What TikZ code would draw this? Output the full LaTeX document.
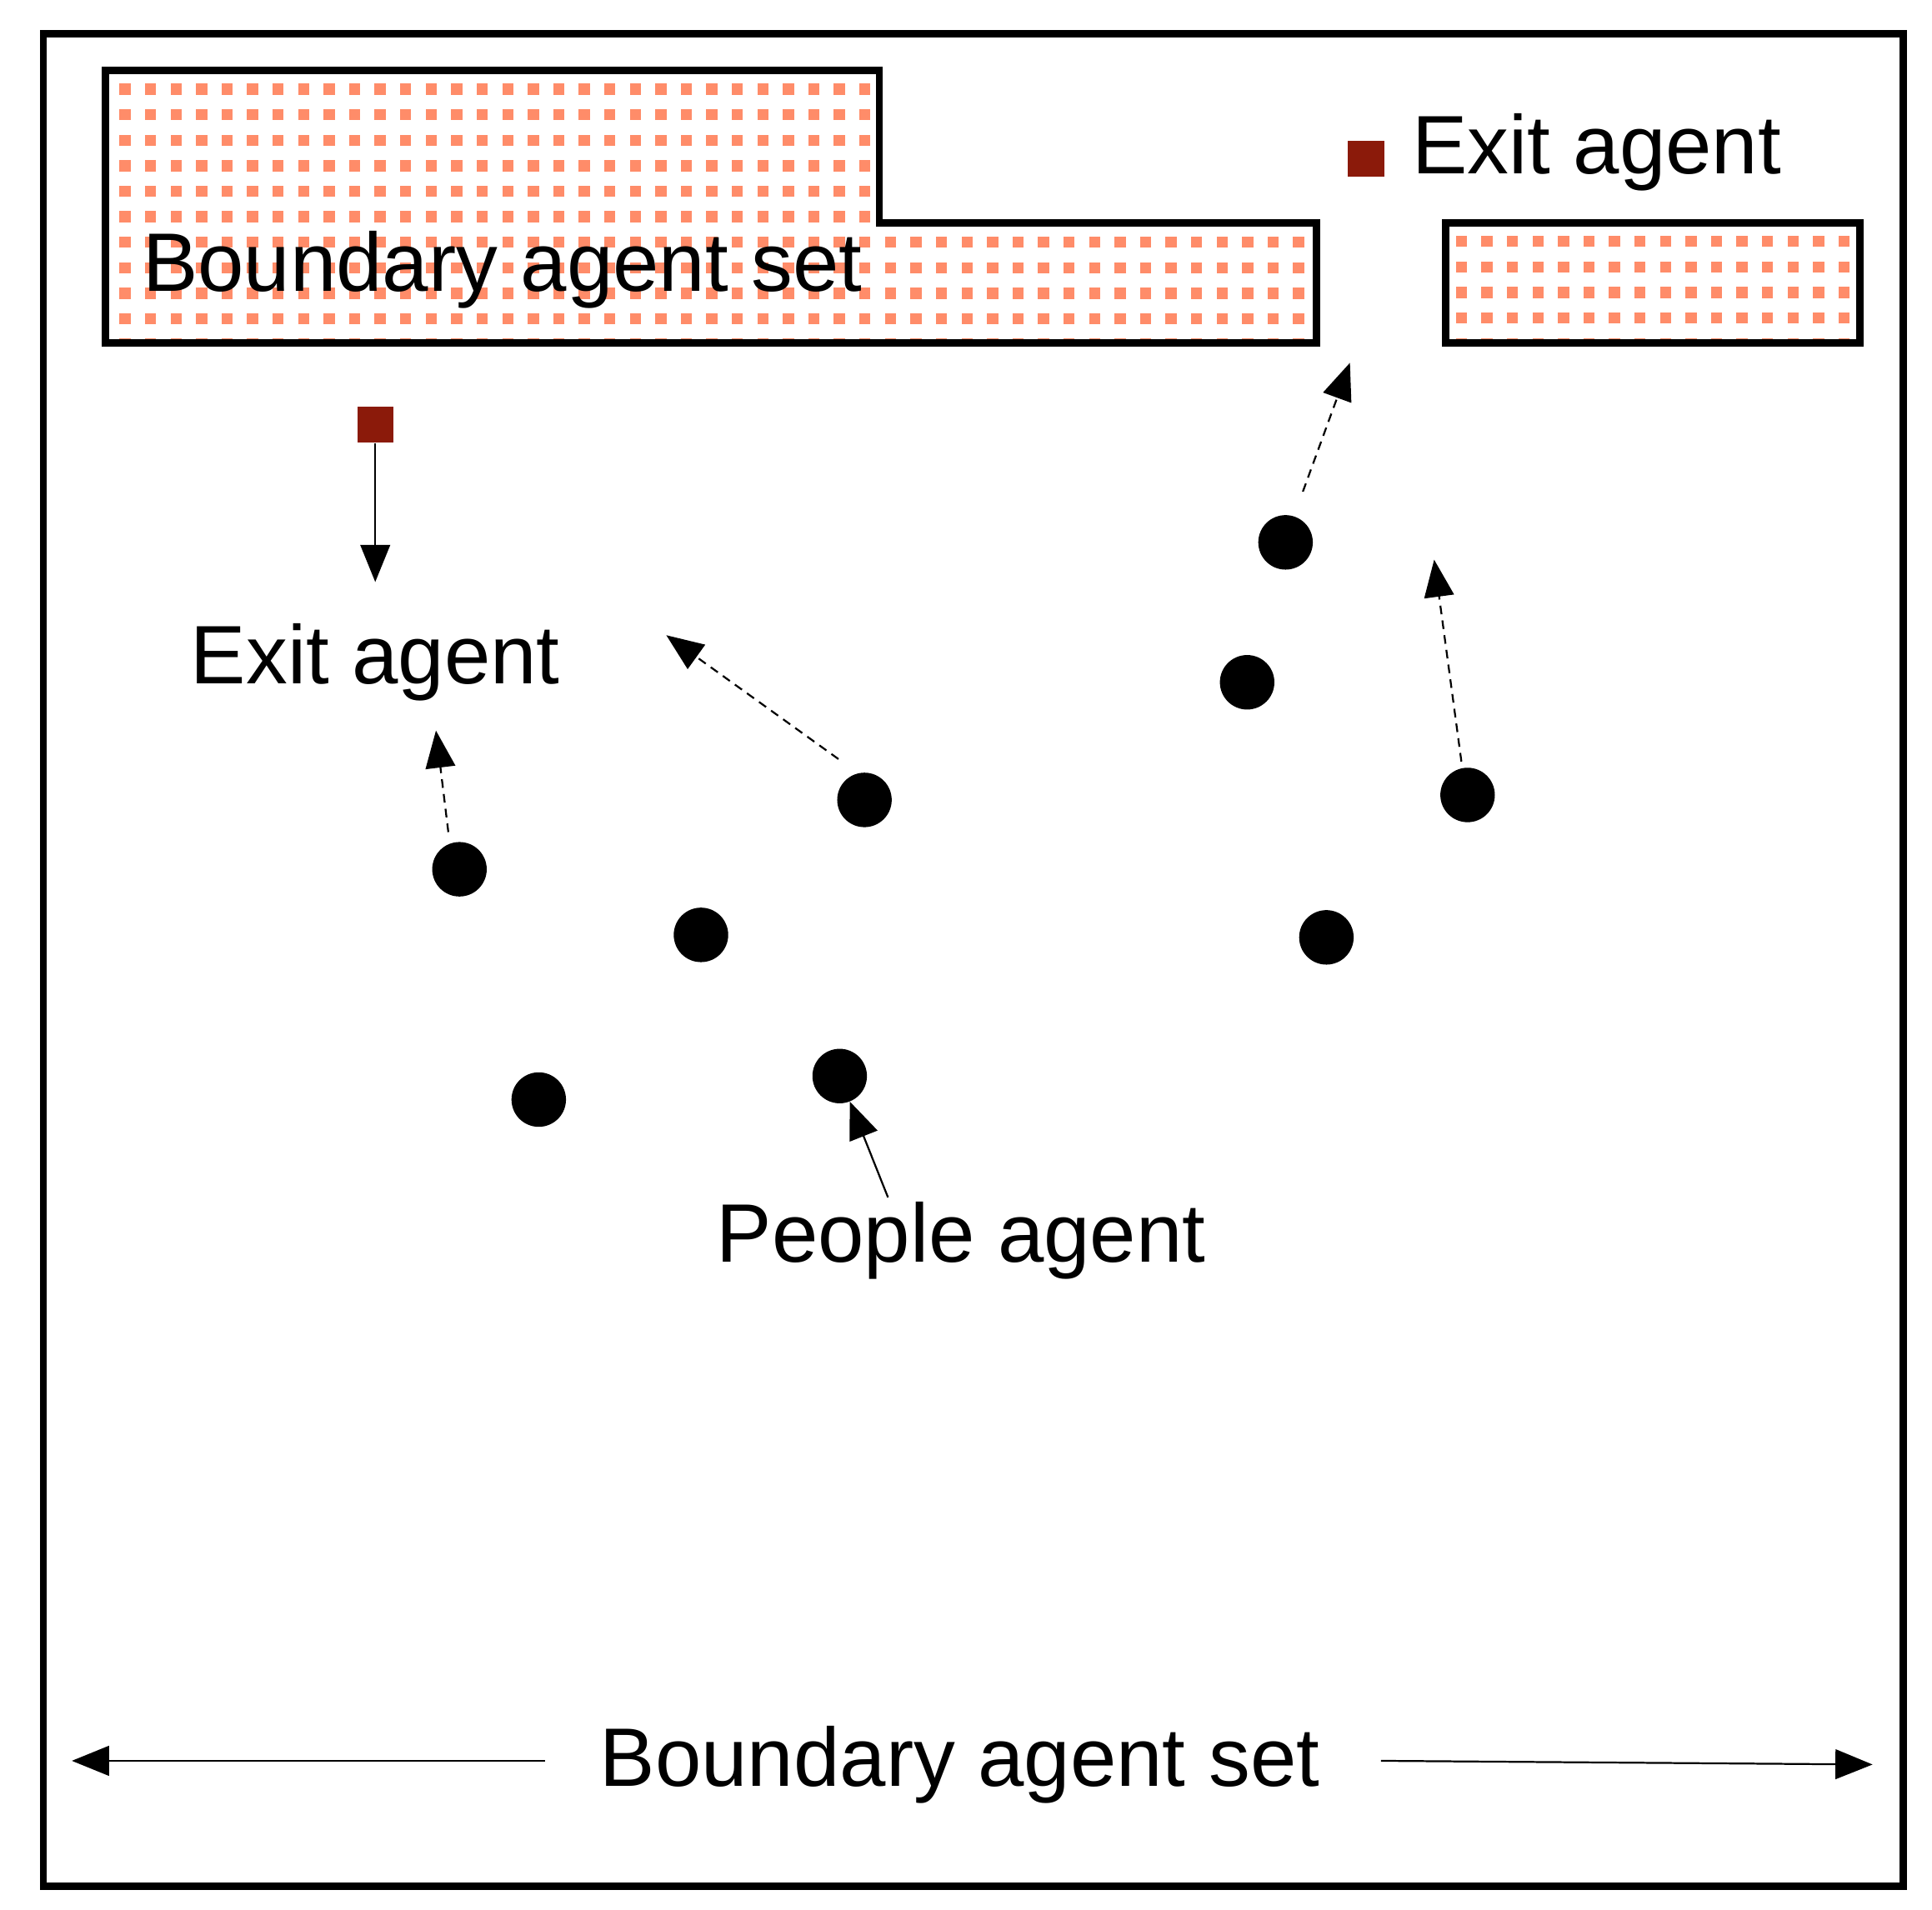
\documentclass[tikz,border=0pt]{standalone}
\usepackage{fontspec}
\setmainfont{Liberation Sans}
\usetikzlibrary{arrows.meta}
\definecolor{salmon}{HTML}{FF8C69}
\definecolor{exitred}{HTML}{8B1A0A}
\begin{document}
\begin{tikzpicture}[x=1pt,y=-1pt,
  wall/.style={line width=6pt,line join=miter},
  person/.style={circle,fill=black,minimum size=44pt,inner sep=0pt},
  exit/.style={fill=exitred,minimum size=29pt,inner sep=0pt},
  lbl/.style={font=\fontsize{67}{74}\selectfont,inner sep=0pt},
  tip/.style={-{Triangle[length=30pt,width=24pt]}},
  dasharr/.style={tip,line width=1.5pt,dash pattern=on 7pt off 5pt}]
\useasboundingbox (0,0) rectangle (1560,1542);
\draw[line width=6pt] (35,27) rectangle (1537,1523);
% dotted fills
\begin{scope}
\clip (88,60) -- (707,60) -- (707,183) -- (1060,183) -- (1060,274) -- (88,274) -- cycle;
\foreach \i in {0,...,47} \foreach \j in {0,...,10}
  \fill[salmon] (101+\i*20.6-4.5,72+\j*20.6-4.5) rectangle ++(9,9);
\end{scope}
\begin{scope}
\clip (1170,183) rectangle (1499,274);
\foreach \i in {0,...,16} \foreach \j in {0,...,5}
  \fill[salmon] (1180+\i*20.6-4.5,195+\j*20.6-4.5) rectangle ++(9,9);
\end{scope}
\draw[wall] (85,57) -- (710,57) -- (710,180) -- (1063,180) -- (1063,277) -- (85,277) -- cycle;
\draw[wall] (1167,180) rectangle (1502,277);
\node[lbl,anchor=west] (b1) at (115,218) {Boundary agent set};
\node[exit] (e1) at (1103,128) {};
\node[lbl,anchor=west] (t1) at (1140,123) {Exit agent};
\node[exit] (e2) at (303,343) {};
\node[lbl] (t2) at (303,535) {Exit agent};
\coordinate (a2) at (303,470);
\draw[tip,line width=1.5pt] (e2.south) -- (a2);
\node[person] (p1) at (1038,438) {};
\node[person] (p2) at (1007,551) {};
\node[person] (p3) at (1185,642) {};
\node[person] (p4) at (698,646) {};
\node[person] (p5) at (371,702) {};
\node[person] (p6) at (566,755) {};
\node[person] (p7) at (1071,757) {};
\node[person] (p8) at (435,888) {};
\node[person] (p9) at (678,869) {};
\coordinate (d1) at (1090,293);
\coordinate (d2) at (1158,452);
\coordinate (d3) at (538,513);
\coordinate (d4) at (352,590);
\draw[dasharr] (1052,397) -- (d1);
\draw[dasharr] (1180,615) -- (d2);
\draw[dasharr] (677,613) -- (d3);
\draw[dasharr] (362,672) -- (d4);
\node[lbl] (pa) at (776,1002) {People agent};
\draw[tip,line width=1.5pt] (717,967) -- (p9);
\node[lbl] (b2) at (775,1425) {Boundary agent set};
\coordinate (l) at (58,1422);
\coordinate (r) at (1512,1425);
\draw[tip,line width=1.5pt] (440,1422) -- (l);
\draw[tip,line width=1.5pt] (1115,1422) -- (r);
\end{tikzpicture}
\end{document}
